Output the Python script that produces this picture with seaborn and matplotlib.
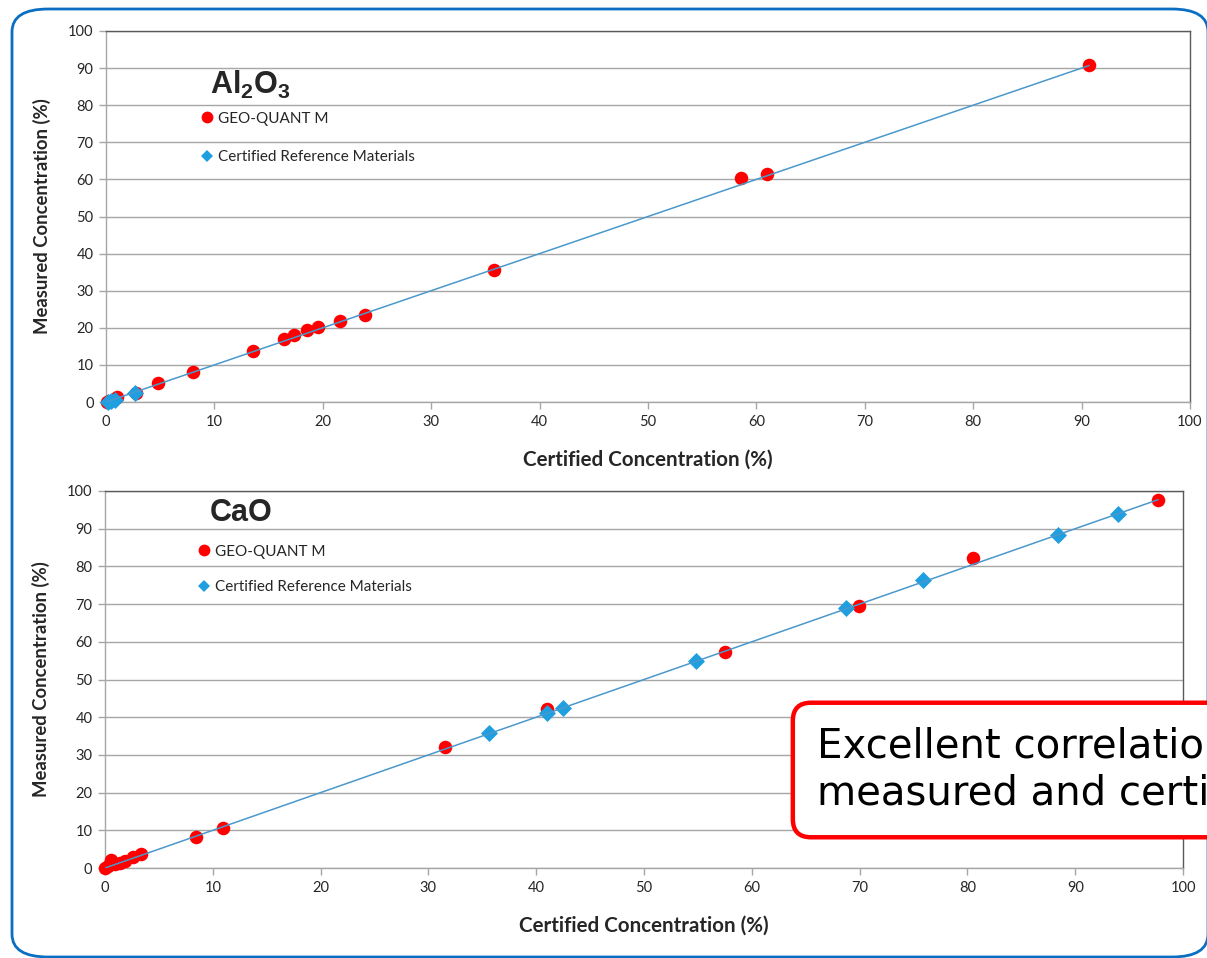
import matplotlib
matplotlib.use("Agg")
import matplotlib.pyplot as plt
import numpy as np
import pandas as pd
import seaborn as sns
from matplotlib.lines import Line2D
from matplotlib.patches import FancyBboxPatch

# Al2O3: GEO-QUANT M results and certified reference materials (certified %, measured %)
al_gq_cert = [0.1, 0.3, 1.0, 2.8, 4.8, 8.0, 13.6, 16.4, 17.3, 18.5, 19.6, 21.6, 23.9, 35.8, 58.6, 61.0, 90.7]
al_gq_meas = [0.1, 0.2, 1.4, 2.4, 5.1, 8.0, 13.8, 17.0, 18.1, 19.4, 20.2, 21.8, 23.5, 35.6, 60.4, 61.5, 90.8]
al_crm_cert = [0.2, 0.5, 0.8, 2.7]
al_crm_meas = [0.1, 0.4, 0.6, 2.5]

# CaO
ca_gq_cert = [0.0, 0.3, 0.6, 0.9, 1.4, 1.9, 2.6, 3.3, 8.4, 10.9, 31.5, 41.0, 57.5, 69.9, 80.5, 97.7]
ca_gq_meas = [0.1, 0.5, 2.0, 1.0, 1.3, 1.8, 2.9, 3.7, 8.2, 10.6, 32.1, 42.2, 57.3, 69.5, 82.2, 97.6]
ca_crm_cert = [35.6, 41.0, 42.5, 54.8, 68.7, 75.9, 88.4, 94.0]
ca_crm_meas = [35.8, 41.1, 42.4, 54.9, 69.0, 76.4, 88.3, 93.9]

# 1:1 reference line extents
al_line = [0.0, 90.7]
ca_line = [0.0, 97.7]

ticks = list(range(0, 101, 10))
series_names = ["GEO-QUANT M", "Certified Reference Materials"]

RED = "#ff0000"
BLUE = "#1f9fe0"
LINE = "#4a98cc"
TXT = "#262626"

sns.set_theme(style="white")
plt.rcParams["font.family"] = ["Lato", "DejaVu Sans"]
plt.rcParams["mathtext.fontset"] = "custom"
plt.rcParams["mathtext.bf"] = "Liberation Sans:bold"
plt.rcParams["mathtext.rm"] = "Liberation Sans"

fig = plt.figure(figsize=(12.07, 9.58), dpi=100)

# rounded blue frame around the whole slide panel
frame = FancyBboxPatch((12 / 1207, 1 / 958), 1196 / 1207, 948 / 958,
                       boxstyle="round,pad=0,rounding_size=0.03",
                       transform=fig.transFigure, fill=False,
                       edgecolor="#0a6fc2", linewidth=2.0, mutation_aspect=958 / 1207)
fig.patches.append(frame)

ax1 = fig.add_axes([106 / 1207, 1 - 402 / 958, 1084 / 1207, 371 / 958])
ax2 = fig.add_axes([105 / 1207, 1 - 868 / 958, 1078 / 1207, 377 / 958])


def draw_panel(ax, title, gq_c, gq_m, crm_c, crm_m, line, leg_anchor, leg_spacing):
    df = pd.DataFrame({
        "certified": list(gq_c) + list(crm_c),
        "measured": list(gq_m) + list(crm_m),
        "source": [series_names[0]] * len(gq_c) + [series_names[1]] * len(crm_c),
    })
    sns.scatterplot(data=df[df.source == series_names[0]], x="certified", y="measured",
                    color=RED, marker="o", s=95, linewidth=0, ax=ax, zorder=3,
                    clip_on=False, legend=False)
    sns.scatterplot(data=df[df.source == series_names[1]], x="certified", y="measured",
                    color=BLUE, marker="D", s=75, linewidth=0, ax=ax, zorder=4,
                    clip_on=False, legend=False)
    sns.lineplot(x=line, y=line, color=LINE, linewidth=1.1, ax=ax, zorder=5)

    ax.set_xlim(0, 100)
    ax.set_ylim(0, 100)
    ax.set_xticks(ticks)
    ax.set_yticks(ticks)
    ax.grid(axis="y", color="#a6a6a6", linewidth=1.0)
    ax.grid(axis="x", visible=False)
    ax.set_axisbelow(True)
    for side in ("left", "bottom"):
        ax.spines[side].set_color("#a6a6a6")
        ax.spines[side].set_linewidth(1.0)
    for side in ("top", "right"):
        ax.spines[side].set_color("#595959")
        ax.spines[side].set_linewidth(1.0)
    ax.tick_params(axis="both", which="major", direction="out", length=5, width=1,
                   color="#a6a6a6", labelsize=10.5, labelcolor=TXT, pad=4,
                   bottom=True, left=True)
    ax.set_xlabel("Certified Concentration (%)", fontsize=14.8, fontweight="bold",
                  color=TXT, labelpad=15)
    ax.set_ylabel("Measured Concentration (%)", fontsize=13.3, fontweight="bold",
                  color=TXT, labelpad=12)

    ax.text(title[1], title[2], title[0], fontsize=22, color=TXT,
            ha="left", va="baseline", zorder=6)

    handles = [
        Line2D([], [], linestyle="none", marker="o", markersize=8.5,
               markerfacecolor=RED, markeredgewidth=0),
        Line2D([], [], linestyle="none", marker="D", markersize=6,
               markerfacecolor=BLUE, markeredgewidth=0),
    ]
    ax.legend(handles, series_names, loc="upper left", bbox_to_anchor=leg_anchor,
              frameon=False, fontsize=11, labelspacing=leg_spacing,
              handlelength=0.6, handletextpad=0.4, borderpad=0, borderaxespad=0,
              labelcolor=TXT)


draw_panel(ax1, (r"$\mathbf{Al_2O_3}$", 9.6, 83.0),
           al_gq_cert, al_gq_meas, al_crm_cert, al_crm_meas, al_line,
           (0.089, 0.783), 1.62)
draw_panel(ax2, ("CaO", 9.7, 92.0),
           ca_gq_cert, ca_gq_meas, ca_crm_cert, ca_crm_meas, ca_line,
           (0.088, 0.858), 1.42)
ax2.texts[0].set_fontweight("bold")
ax2.texts[0].set_family("Liberation Sans")

# highlighted conclusion
fig.text(817 / 1207, 1 - 770 / 958,
         "Excellent correlation between\nmeasured and certified values",
         fontsize=29, family="DejaVu Sans", color="black", ha="left", va="center",
         linespacing=1.2,
         bbox=dict(boxstyle="round,pad=0.6,rounding_size=0.45", facecolor="white",
                   edgecolor="#ff0000", linewidth=3.2))

fig.savefig("out.png", dpi=100)
